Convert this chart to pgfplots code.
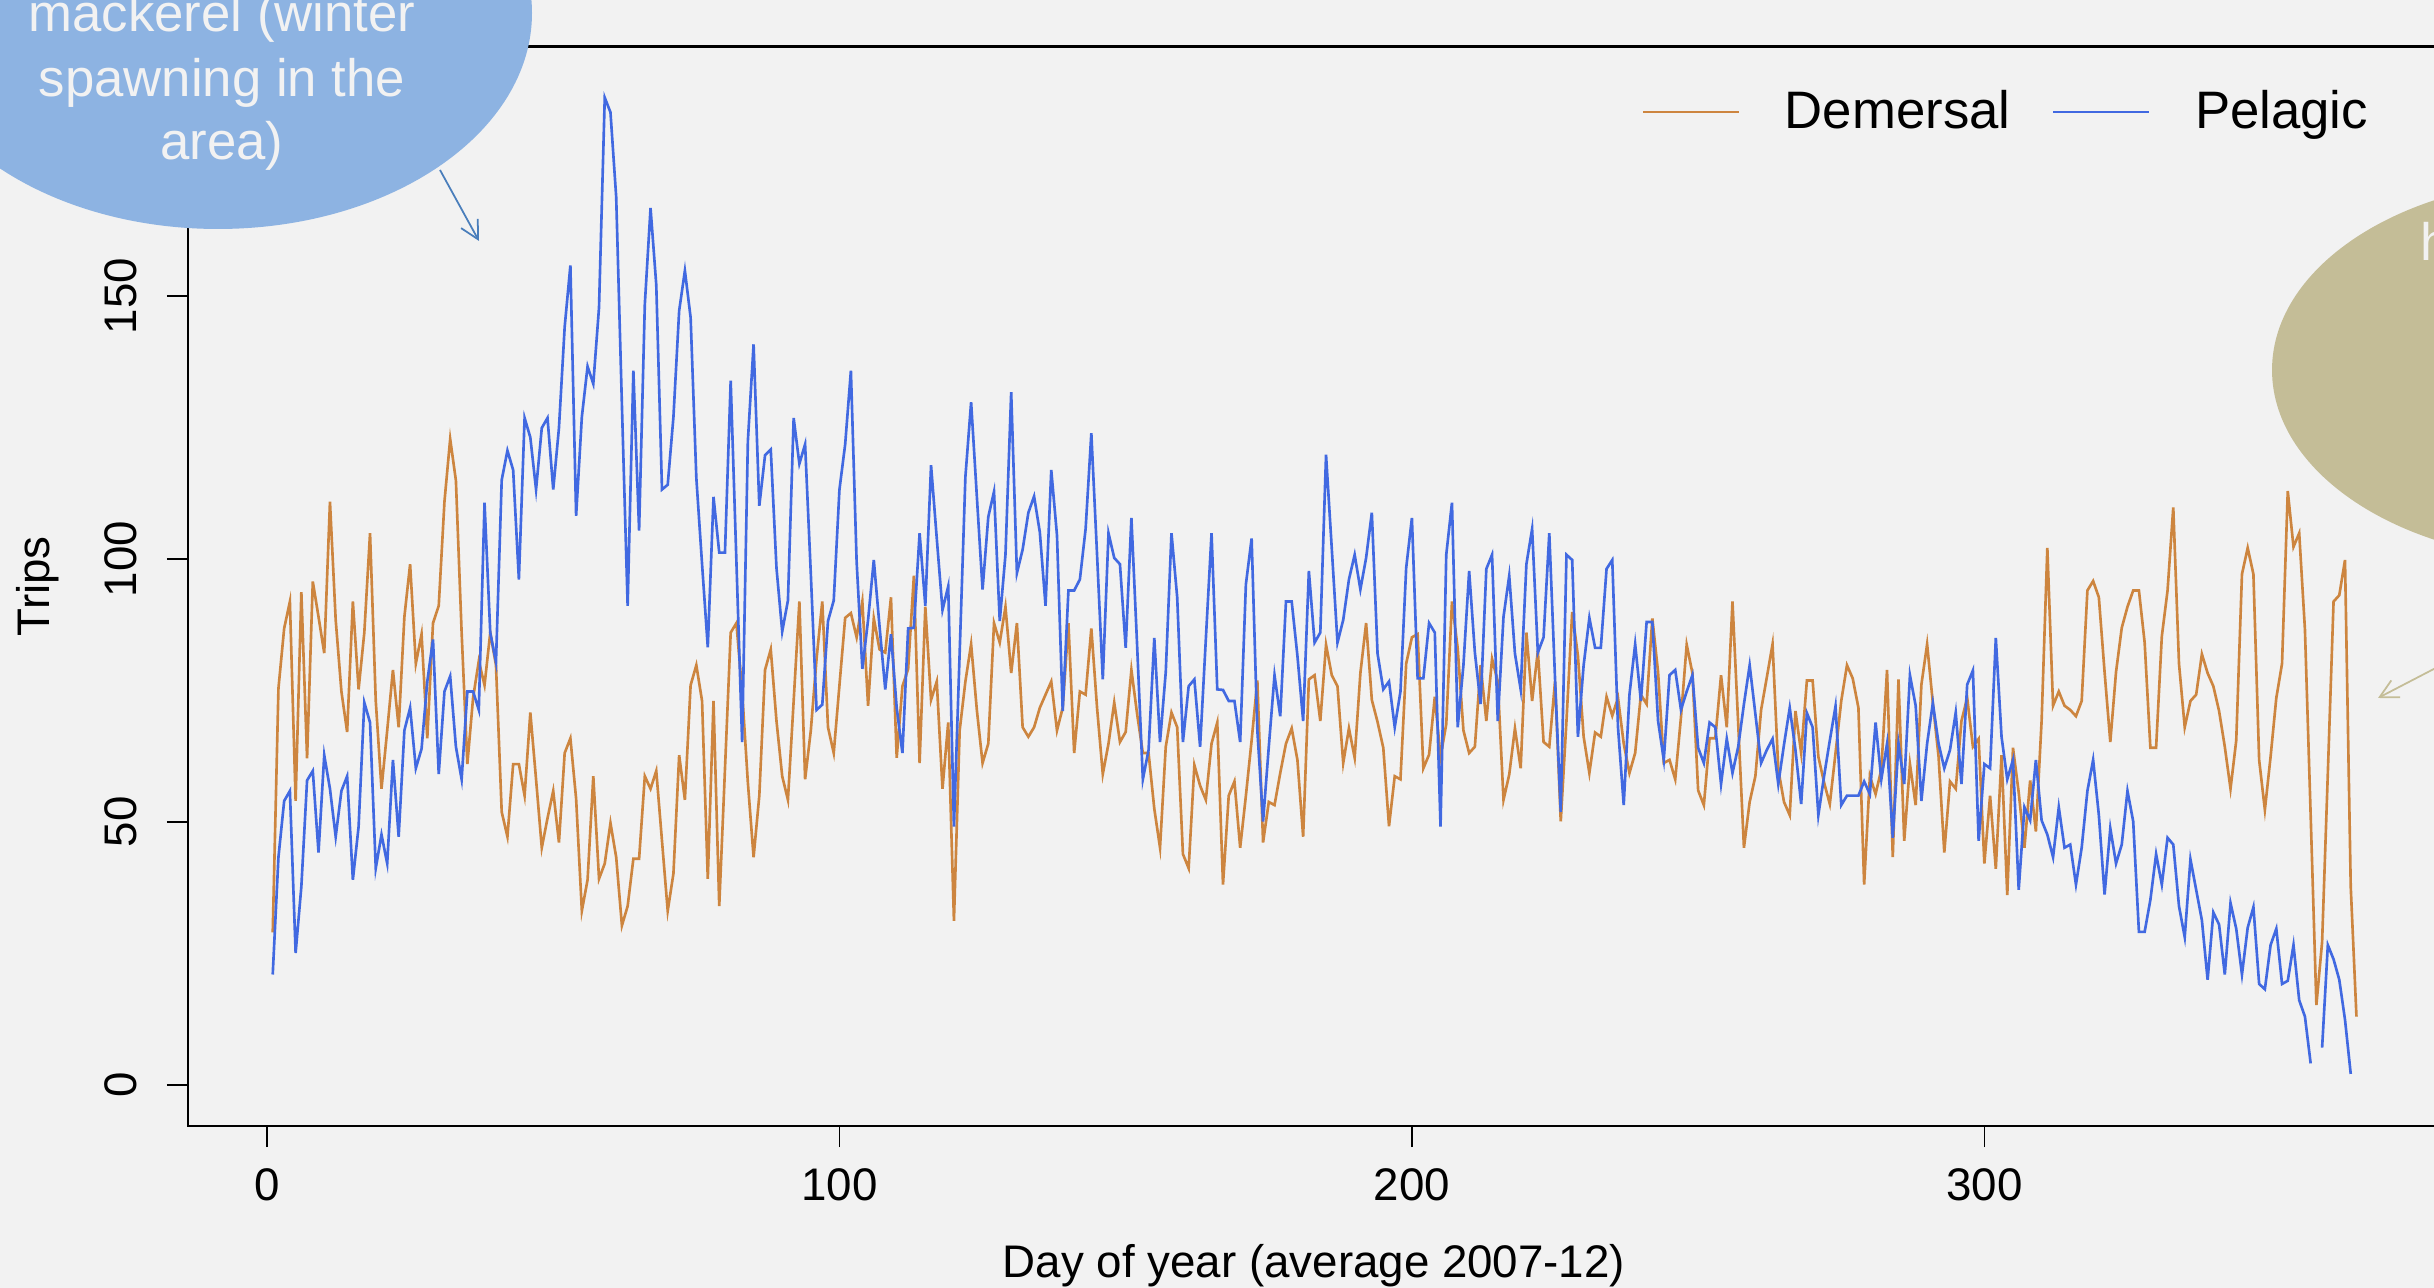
\documentclass[border=0pt]{standalone}
\usepackage{fontspec}
\setmainfont{Liberation Sans}
\usepackage{pgfplots}
\pgfplotsset{compat=1.18}
\usepackage{pgfplotstable}
\usetikzlibrary{arrows.meta}

\definecolor{bg}{HTML}{F2F2F2}
\definecolor{demcol}{HTML}{CD853F}
\definecolor{pelcol}{HTML}{4169E1}
\definecolor{ovalblue}{HTML}{8DB3E2}
\definecolor{arrblue}{HTML}{4A7EBB}
\definecolor{ovaltan}{HTML}{C4BD97}

% daily trips, demersal fleet
\pgfplotstableread{
day trips
1 29
2 75.4
3 86.8
4 91.9
5 54.0
6 93.7
7 62.1
8 95.7
9 89
10 82.1
11 110.9
12 88.4
13 74.8
14 67.1
15 91.9
16 75.2
17 86
18 104.9
19 73
20 56.3
21 67.4
22 78.9
23 68
24 89
25 99
26 80.1
27 85.7
28 65.9
29 87.8
30 91.1
31 110.9
32 122.8
33 114.9
34 86
35 61
36 73.6
37 80.6
38 76
39 86
40 79.8
41 51.9
42 47.2
43 61
44 61
45 55
46 70.8
47 58.1
48 45.1
49 50.7
50 55.9
51 46.1
52 63.1
53 65.9
54 54.4
55 33.1
56 39
57 58.7
58 39.2
59 42.1
60 49.8
61 43.3
62 30.3
63 34
64 43
65 43
66 58.7
67 56.3
68 59.7
69 46.4
70 33.1
71 40.2
72 62.7
73 54.2
74 76
75 79.8
76 73
77 39.2
78 73
79 34
80 60
81 86
82 87.8
83 74.8
84 57.5
85 43.3
86 55
87 78.9
88 82.8
89 69.2
90 58.7
91 54.2
92 73
93 91.9
94 58.1
95 67.4
96 81
97 91.9
98 68
99 63.1
100 76
101 88.8
102 89.7
103 85.1
104 91.9
105 72.1
106 88.7
107 82.8
108 82.2
109 92.7
110 62.2
111 75.8
112 79.1
113 96.8
114 61.2
115 90.9
116 73.2
117 76.7
118 56.3
119 68.9
120 31.2
121 67.4
122 76.7
123 83.8
124 71.3
125 61.2
126 64.9
127 87.8
128 84.1
129 90.9
130 78.3
131 87.8
132 68
133 66.2
134 68
135 71.7
136 74.2
137 76.7
138 67.4
139 71.7
140 87.8
141 63.1
142 74.8
143 74.2
144 86.8
145 71.7
146 59.1
147 64.9
148 72.7
149 65.2
150 67.1
151 78.9
152 70.5
153 63.1
154 63.1
155 52.5
156 45.1
157 64.3
158 70.8
159 68
160 43.9
161 41.2
162 60.8
163 56.9
164 54.2
165 64.9
166 68.9
167 38.1
168 55
169 57.7
170 45.1
171 55
172 65.5
173 76.9
174 46.1
175 53.8
176 53.2
177 59.3
178 64.9
179 67.8
180 61.8
181 47.2
182 77.1
183 77.9
184 69.2
185 83.7
186 77.9
187 75.8
188 61.2
189 67.8
190 62.2
191 78.3
192 87.8
193 73.2
194 69
195 64.1
196 49.2
197 58.7
198 58.1
199 80.1
200 85.1
201 85.7
202 60.2
203 62.8
204 73.8
205 62.4
206 68.6
207 91.9
208 83
209 67.4
210 63.1
211 64.3
212 79.8
213 69.2
214 81
215 76.7
216 54.2
217 59
218 67.8
219 60.2
220 86
221 73
222 82.5
223 65.2
224 64.3
225 76.7
226 50.1
227 69.2
228 89.9
229 81.6
230 66.2
231 59.3
232 67
233 66.2
234 73.8
235 70.2
236 73.6
237 64.9
238 59.3
239 63.1
240 74.2
241 72.4
242 88.7
243 78.5
244 61.2
245 61.8
246 58.1
247 69.9
248 83.7
249 78.3
250 56
251 53.2
252 65.9
253 65.9
254 77.9
255 68
256 91.9
257 68.6
258 45.1
259 53.8
260 58.7
261 71.3
262 77.5
263 83.8
264 60
265 53.8
266 51.3
267 71.1
268 63.1
269 76.9
270 76.9
271 62.4
272 57.5
273 53.4
274 63.1
275 73
276 79.8
277 77.3
278 71.7
279 38.1
280 58.7
281 55.3
282 60
283 78.9
284 43.3
285 77.1
286 46.4
287 61
288 53.2
289 76.1
290 83.8
291 72.6
292 62.4
293 44.2
294 57.7
295 56.3
296 69.2
297 73.6
298 64.3
299 65.8
300 42.1
301 55
302 41.1
303 62.7
304 36.1
305 64.1
306 55.6
307 45.1
308 57.9
309 48.2
310 69.2
311 102.1
312 72.1
313 74.8
314 72.1
315 71.3
316 70.1
317 73
318 94
319 95.8
320 92.7
321 78.5
322 65.2
323 78.5
324 86.9
325 90.9
326 94
327 94
328 84.1
329 64.1
330 64.1
331 85.3
332 94
333 109.8
334 80.1
335 68
336 73
337 74.2
338 81.9
339 78.3
340 75.8
341 71.1
342 64.3
343 56.3
344 65.5
345 97.1
346 102.1
347 97.1
348 61.8
349 52.3
350 62.4
351 73.6
352 80.1
353 112.9
354 102.3
355 104.9
356 86.6
357 51.3
358 15.2
359 27.2
360 59.3
361 91.9
362 93.1
363 99.8
364 37.7
365 13
}\demersal

% daily trips, pelagic fleet (day 358 missing)
\pgfplotstableread{
day trips
1 21
2 43.3
3 54
4 55.9
5 25.1
6 37.7
7 57.9
8 59.7
9 44.2
10 62.7
11 56.3
12 47.2
13 55.9
14 58.7
15 39
16 49.1
17 72.7
18 68.9
19 41.2
20 47.6
21 42.1
22 61.8
23 47.2
24 67.4
25 71.7
26 60.2
27 63.9
28 76.7
29 84.7
30 59.1
31 74.8
32 77.7
33 64.3
34 58.1
35 74.8
36 74.8
37 71.3
38 110.7
39 86
40 80.4
41 115
42 120.6
43 116.9
44 96.1
45 126.8
46 123.1
47 113.2
48 124.9
49 126.8
50 113.2
51 124.9
52 144.1
53 155.8
54 108.2
55 127
56 136.6
57 133.3
58 147.8
59 187.7
60 184.9
61 168.8
62 129.2
63 91.1
64 135.8
65 105.4
66 148.4
67 166.7
68 152.1
69 113.2
70 114.1
71 127
72 147.2
73 154.8
74 145.9
75 115.4
76 99
77 83.2
78 111.8
79 101.2
80 101.2
81 133.9
82 99.5
83 65.2
84 122.4
85 140.8
86 110.1
87 119.7
88 120.8
89 98.3
90 86.2
91 92.1
92 126.8
93 118.1
94 121.8
95 97.1
96 71.3
97 72.3
98 88.2
99 92.1
100 113.2
101 121.8
102 135.8
103 99.5
104 79.1
105 88.4
106 99.8
107 87.2
108 75.2
109 85.7
110 71.7
111 63.1
112 86.8
113 86.9
114 104.9
115 91.1
116 117.8
117 103.9
118 90.3
119 94.8
120 49.1
121 82.2
122 115.6
123 129.8
124 111.9
125 94.2
126 108
127 112.8
128 88.2
129 100.8
130 131.7
131 97.3
132 101.8
133 108.8
134 111.9
135 105.1
136 91.1
137 116.9
138 104.5
139 71.1
140 94
141 94
142 96.1
143 105.7
144 123.9
145 100.8
146 77.1
147 104.9
148 100.2
149 99
150 83.1
151 107.8
152 83.5
153 58.1
154 63.7
155 85
156 65.2
157 78.5
158 104.9
159 92.7
160 65.2
161 75.8
162 77.1
163 64.3
164 84.7
165 104.9
166 75.2
167 75.1
168 73
169 73
170 65.2
171 95.2
172 103.9
173 67.4
174 50.1
175 64.3
176 77.9
177 70.1
178 91.9
179 91.9
180 81.6
181 69.2
182 97.7
183 84.1
184 86
185 119.8
186 102
187 84.1
188 88.4
189 96.1
190 100.8
191 94.2
192 100.2
193 108.8
194 82
195 75.2
196 76.7
197 68
198 74.8
199 98.3
200 107.8
201 77.3
202 77.3
203 87.8
204 86
205 49.1
206 100.8
207 110.7
208 68
209 79.8
210 97.7
211 82.2
212 72.4
213 98.1
214 100.8
215 69.2
216 89
217 96.8
218 82
219 75.2
220 99
221 105.7
222 82.2
223 85.1
224 104.9
225 77.3
226 51.9
227 100.8
228 99.8
229 66.2
230 79.8
231 88.8
232 83.1
233 83.1
234 98.1
235 99.8
236 68
237 53.2
238 74.2
239 83.8
240 73
241 88
242 88
243 69.2
244 61.8
245 77.9
246 78.9
247 71.3
248 74.8
249 77.9
250 64.1
251 61.2
252 68.9
253 68
254 57.2
255 65.8
256 59.3
257 64.3
258 72.4
259 79.8
260 70.5
261 61.2
262 63.7
263 65.8
264 57.2
265 64.7
266 71.7
267 63.7
268 53.4
269 70.7
270 68
271 51.3
272 58.7
273 65.5
274 72
275 53.2
276 55
277 55
278 55
279 57.7
280 55.3
281 68.9
282 58.1
283 64.9
284 47
285 64.9
286 57.2
287 77.9
288 72.1
289 54
290 64.9
291 72.6
292 64.9
293 60.2
294 63.7
295 70.8
296 57.2
297 76.1
298 78.8
299 46.4
300 61
301 60.2
302 85
303 66.2
304 58.1
305 61.8
306 37.1
307 52.8
308 50.3
309 61.8
310 50.3
311 47.6
312 43.3
313 52.8
314 45.1
315 45.7
316 38.1
317 45.1
318 55.9
319 61.8
320 51.3
321 36.2
322 48.8
323 42.1
324 45.7
325 55.9
326 50.1
327 29.1
328 29.1
329 35.2
330 43.9
331 38.1
332 47
333 45.7
334 34
335 28.1
336 42.9
337 37.1
338 31.3
339 20
340 32.8
341 30.5
342 21
343 34.6
344 29.7
345 21
346 29.9
347 33.8
348 19.2
349 18.2
350 26.6
351 29.7
352 19.2
353 19.8
354 26.6
355 16.1
356 13
357 4.1
358 nan
359 7.1
360 26.6
361 23.9
362 20
363 12.4
364 2.1
}\pelagic

\begin{document}
\begin{tikzpicture}
\useasboundingbox (0,0) rectangle (24.34,12.88);
\clip (0,0) rectangle (24.34,12.88);
\fill[bg] (0,0) rectangle (24.34,12.88);

\begin{axis}[
  at={(1.88cm,1.62cm)}, anchor=south west,
  scale only axis, width=22.52cm, height=10.794cm,
  xmin=-13.8, xmax=379.6, ymin=-7.8, ymax=197.4,
  axis line style={black, line width=0.65pt},
  tick align=outside, tick pos=left,
  major tick length=2.1mm,
  tick style={black, line width=0.4pt},
  xtick={0,100,200,300}, ytick={0,50,100,150},
  ticklabel style={font=\fontsize{13}{15.6}\selectfont},
  /pgf/number format/assume math mode=true,
  xticklabel style={anchor=north, inner xsep=0pt, inner ysep=2.1mm},
  yticklabel style={rotate=90, anchor=south, inner xsep=0pt, inner ysep=2.9mm},
  xlabel={Day of year (average 2007-12)},
  ylabel={Trips},
  every axis x label/.style={at={(axis description cs:0.5,-0.1408)}, anchor=base,
    font=\fontsize{13}{15.6}\selectfont},
  every axis y label/.style={at={(axis description cs:-0.0666,0.5)}, rotate=90, anchor=center,
    font=\fontsize{13}{15.6}\selectfont},
  legend columns=2,
  legend image code/.code={\draw[#1] (0mm,0mm) -- (9.6mm,0mm);},
  legend style={at={(axis description cs:0.6452,0.9394)}, anchor=west,
    draw=none, fill=none, inner sep=0pt,
    font=\fontsize{15}{18}\selectfont, nodes={inner sep=0pt},
    /tikz/every odd column/.append style={column sep=4.45mm},
    /tikz/every even column/.append style={column sep=4.15mm}},
]
\addplot[demcol, line width=0.75pt] table[x=day, y=trips] {\demersal};
\addlegendentry{Demersal}
\addplot[pelcol, line width=0.75pt, unbounded coords=jump] table[x=day, y=trips] {\pelagic};
\addlegendentry{Pelagic}
\end{axis}

% call-out bubbles
\fill[ovalblue] (2.18,12.75) ellipse [x radius=3.14, y radius=2.16];
\begin{scope}[every node/.style={text=bg, anchor=base, font=\fontsize{15}{18}\selectfont}]
  \node at (2.22,12.56) {mackerel (winter};
  \node at (2.22,11.91) {spawning in the};
  \node at (2.22,11.28) {area)};
\end{scope}
\draw[arrblue, line width=0.5pt, -{Straight Barb[length=1.8mm, width=1.9mm]}]
  (4.40,11.18) -- (4.79,10.47);

\fill[ovaltan] (25.72,9.18) ellipse [x radius=3.0, y radius=1.91];
\node[text=bg, anchor=base west, inner sep=0pt, font=\fontsize{15}{18}\selectfont] at (24.20,10.27) {h};
\draw[ovaltan, line width=0.5pt, -{Straight Barb[length=1.8mm, width=1.9mm]}]
  (24.80,6.43) -- (23.78,5.90);
\end{tikzpicture}
\end{document}
